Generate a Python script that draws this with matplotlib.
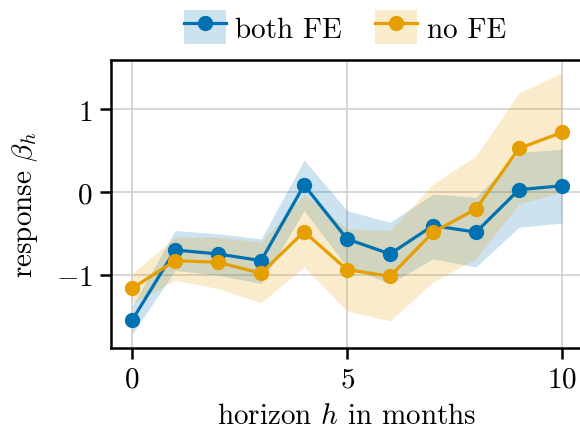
import numpy as np
import matplotlib
matplotlib.use("Agg")
import matplotlib.pyplot as plt
from matplotlib.patches import Patch
from matplotlib.lines import Line2D

plt.rcParams['font.family'] = ['cmr10', 'DejaVu Serif']
plt.rcParams['mathtext.fontset'] = 'cm'
plt.rcParams['axes.formatter.use_mathtext'] = True
plt.rcParams['axes.unicode_minus'] = True

# horizon and estimates
horizon = np.arange(11)
both_fe = [-1.54, -0.695, -0.743, -0.823, 0.088, -0.562, -0.743, -0.40, -0.48, 0.032, 0.08]
both_lo = [-1.71, -0.94, -1.00, -1.10, -0.22, -0.90, -1.10, -0.80, -0.90, -0.42, -0.37]
both_hi = [-1.37, -0.46, -0.50, -0.56, 0.39, -0.22, -0.36, -0.02, -0.06, 0.48, 0.52]
no_fe = [-1.157, -0.823, -0.843, -0.976, -0.474, -0.932, -1.012, -0.482, -0.20, 0.53, 0.723]
no_lo = [-1.34, -1.06, -1.16, -1.33, -0.90, -1.43, -1.55, -1.08, -0.80, -0.14, 0.00]
no_hi = [-0.98, -0.54, -0.54, -0.60, -0.02, -0.44, -0.46, 0.10, 0.44, 1.20, 1.44]

blue = '#0072B2'
orange = '#E69F00'
fs = 21
lw = 2.3
ms = 10

fig = plt.figure(figsize=(5.8, 4.31), dpi=100)
ax = fig.add_axes([0.1909, 0.1896, 0.815, 0.6696])

ax.fill_between(horizon, both_lo, both_hi, color=blue, alpha=0.2, lw=0)
ax.fill_between(horizon, no_lo, no_hi, color=orange, alpha=0.2, lw=0)
ax.plot(horizon, both_fe, color=blue, lw=lw, marker='o', ms=ms)
ax.plot(horizon, no_fe, color=orange, lw=lw, marker='o', ms=ms)

ax.set_xlim(-0.5, 10.5)
ax.set_ylim(-1.88, 1.60)
ax.set_xticks([0, 5, 10])
ax.set_yticks([-1, 0, 1])
ax.grid(True, color='#cfcfcf', lw=1.2)
ax.set_axisbelow(True)
for s in ax.spines.values():
    s.set_linewidth(1.8)
ax.tick_params(labelsize=fs, length=8, width=1.8, direction='out', pad=5)

ax.set_xlabel(r'horizon $h$ in months', fontsize=fs, labelpad=7)
ax.set_ylabel(r'response $\beta_h$', fontsize=fs, labelpad=11)

handles = [
    (Patch(facecolor=blue, alpha=0.2, lw=0), Line2D([], [], color=blue, lw=lw, marker='o', ms=ms)),
    (Patch(facecolor=orange, alpha=0.2, lw=0), Line2D([], [], color=orange, lw=lw, marker='o', ms=ms)),
]
fig.legend(handles, ['both FE', 'no FE'], loc='center', bbox_to_anchor=(345 / 580, 1 - 28 / 431),
           ncol=2, frameon=False, fontsize=fs, handlelength=1.43, handleheight=1.45,
           handletextpad=0.33, columnspacing=1.13)

fig.savefig('out.png', dpi=100)
